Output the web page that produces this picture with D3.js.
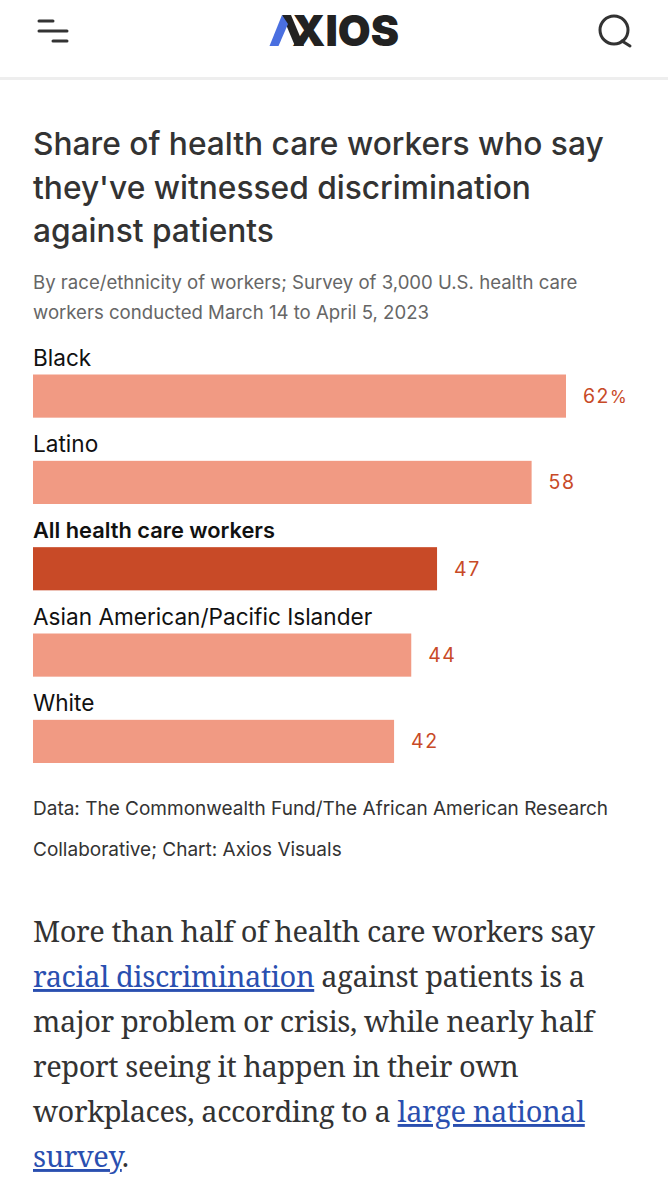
<!DOCTYPE html>
<html><head><meta charset="utf-8">
<script src="https://cdn.jsdelivr.net/npm/d3@7"></script>
<style>html,body{margin:0;padding:0;background:#fff}svg{display:block}</style>
</head><body><svg id="c" width="668" height="1200"></svg>
<script>
const categories=["Black","Latino","All health care workers","Asian American/Pacific Islander","White"];
const values=[62,58,47,44,42];
const valueSuffix=["%","","","",""];
const highlight="All health care workers";
const titleLines=["Share of health care workers who say","they've witnessed discrimination","against patients"];
const subtitleLines=["By race/ethnicity of workers; Survey of 3,000 U.S. health care","workers conducted March 14 to April 5, 2023"];
const sourceLines=["Data: The Commonwealth Fund/The African American Research","Collaborative; Chart: Axios Visuals"];
const sans="Inter, 'Open Sans', sans-serif";
const serif="'Noto Serif','DejaVu Serif','Liberation Serif',serif";
const svg=d3.select("#c");
svg.append("rect").attr("width",668).attr("height",1200).attr("fill","#fff");
// header
svg.append("rect").attr("x",0).attr("y",77).attr("width",668).attr("height",3).attr("fill","#eeeeee");
const menu=svg.append("g").attr("stroke","#333").attr("stroke-width",3).attr("stroke-linecap","round");
[[39,53,21],[39,67,31],[53,67,41]].forEach(d=>menu.append("line").attr("x1",d[0]).attr("x2",d[1]).attr("y1",d[2]).attr("y2",d[2]));
svg.append("text").attr("x",292).attr("y",46).attr("font-family",sans).attr("font-weight",900).attr("font-size",42).attr("textLength",107).attr("lengthAdjust","spacingAndGlyphs").attr("fill","#222").text("XIOS");
svg.append("path").attr("d","M282 15 L291 15 L304 46 L295 46 Z").attr("fill","#222");
svg.append("path").attr("d","M269.5 46 L282 15 L288 24 L278.5 46 Z").attr("fill","#4a6fe0");
const s=svg.append("g").attr("fill","none").attr("stroke","#333").attr("stroke-width",3);
s.append("circle").attr("cx",614).attr("cy",30).attr("r",14);
s.append("line").attr("x1",622).attr("y1",41).attr("x2",630).attr("y2",46).attr("stroke-linecap","round");
// title
titleLines.forEach((t,i)=>svg.append("text").attr("x",33).attr("y",155+i*43.5).attr("font-family",sans).attr("font-weight",500).attr("font-size",31.7).attr("fill","#333").text(t));
subtitleLines.forEach((t,i)=>svg.append("text").attr("x",33).attr("y",289+i*30).attr("font-family",sans).attr("font-size",18.6).attr("fill","#666").text(t));
// chart
const x=d3.scaleLinear().domain([0,62]).range([33,566]);
const y=d3.scaleBand().domain(categories).range([374.5,763]).paddingInner(0.5).paddingOuter(0);
const rows=svg.selectAll("g.row").data(categories).join("g").attr("class","row");
rows.append("rect").attr("x",x(0)).attr("y",d=>y(d)).attr("width",(d,i)=>x(values[i])-x(0)).attr("height",y.bandwidth()).attr("fill",d=>d===highlight?"#c84a27":"#f19a83");
rows.append("text").attr("x",33).attr("y",d=>y(d)-9).attr("font-family",sans).attr("font-size",d=>d===highlight?21.8:22.6).attr("font-weight",d=>d===highlight?600:400).attr("fill","#111").text(d=>d);
const vals=rows.append("text").attr("x",(d,i)=>x(values[i])+17).attr("y",d=>y(d)+y.bandwidth()/2+7).attr("font-family",sans).attr("font-size",19.5).attr("letter-spacing",1.5).attr("fill","#c84a27");
vals.append("tspan").text((d,i)=>values[i]);
vals.append("tspan").attr("font-size",17).attr("letter-spacing",0).text((d,i)=>valueSuffix[i]);
sourceLines.forEach((t,i)=>svg.append("text").attr("x",33).attr("y",815+i*41).attr("font-family",sans).attr("font-size",19).attr("fill","#333").text(t));
// article
const art=[[["More than half of health care workers say",0]],[["racial discrimination",1],[" against patients is a",0]],[["major problem or crisis, while nearly half",0]],[["report seeing it happen in their own",0]],[["workplaces, according to a ",0],["large national",1]],[["survey",1],[".",0]]];
art.forEach((l,i)=>{const t=svg.append("text").attr("x",33).attr("y",942+i*45).attr("font-family",serif).attr("font-size",29).attr("letter-spacing",-0.41).attr("fill","#333");
l.forEach(p=>{const ts=t.append("tspan").text(p[0]);if(p[1])ts.attr("fill","#2a4fb0").attr("text-decoration","underline");});});
</script></body></html>
